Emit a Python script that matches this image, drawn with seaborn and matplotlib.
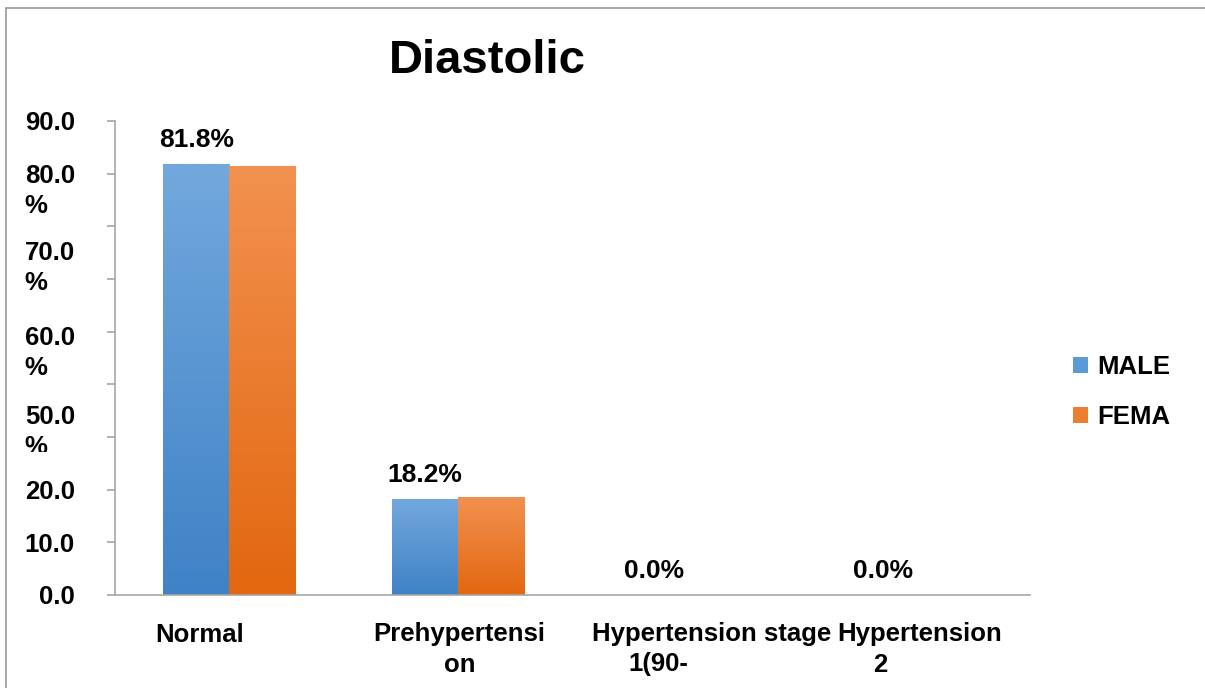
import numpy as np
import pandas as pd
import matplotlib
matplotlib.use("Agg")
import matplotlib.pyplot as plt
import seaborn as sns
from matplotlib.colors import LinearSegmentedColormap
from matplotlib.patches import Patch
from matplotlib.lines import Line2D
from matplotlib.transforms import Bbox, TransformedBbox, ScaledTranslation, blended_transform_factory

# ---- data ----
categories = ["Normal", "Prehypertension", "Hypertension stage 1", "Hypertension 2"]
series_names = ["MALE", "FEMA"]
male_values = [81.8, 18.2, 0.0, 0.0]
female_values = [81.4, 18.6, 0.0, 0.0]

# axis labels as they are printed (wrapped lines)
category_lines = [["Normal"], ["Prehypertensi", "on"], ["Hypertension stage", "1(90-"], ["Hypertension", "2"]]
ytick_values = [0, 10, 20, 30, 40, 50, 60, 70, 80, 90]
ytick_lines = [["90.0"], ["80.0", "%"], ["70.0", "%"], ["60.0", "%"], ["50.0", "%"], ["20.0"], ["10.0"], ["0.0"]]

# ---- layout / style ----
W, H, DPI = 1205, 688, 100
line_x = [[-0.129], [1.003, 1.005], [2.11, 1.874], [3.019, 2.844]]
ytext_y = [90, 80, 65.5, 49.2, 34.2, 20, 10, 0]
blue_top, blue_bot = "#72A8DD", "#3F82C6"
orange_top, orange_bot = "#F2914F", "#E2670F"
grey = "#A6A6A6"
FONT = "Liberation Sans"
FS = 18.5

sns.set_theme(style="white")
plt.rcParams["font.family"] = [FONT, "DejaVu Sans"]
plt.rcParams["font.weight"] = "bold"
plt.rcParams["text.color"] = "black"

df = pd.DataFrame({
    "category": categories * 2,
    "sex": [series_names[0]] * 4 + [series_names[1]] * 4,
    "value": male_values + female_values,
})

fig = plt.figure(figsize=(W / DPI, H / DPI), dpi=DPI)
ax = fig.add_axes([115 / W, 1 - 595 / H, (1030 - 115) / W, (595 - 121) / H])

sns.barplot(data=df, x="category", y="value", hue="sex", order=categories,
            hue_order=series_names, palette=["#5B9BD5", "#ED7D31"],
            width=0.578, gap=0, saturation=1, legend=False, ax=ax,
            err_kws={"linewidth": 0})

# vertical gradient fill on every bar
cmaps = [LinearSegmentedColormap.from_list("b", [blue_bot, blue_top]),
         LinearSegmentedColormap.from_list("o", [orange_bot, orange_top])]
grad = np.linspace(0, 1, 256).reshape(-1, 1)
for cont, cmap in zip(ax.containers, cmaps):
    for bar in cont:
        x, w, h = bar.get_x(), bar.get_width(), bar.get_height()
        bar.set_edgecolor("none")
        if h <= 0:
            continue
        im = ax.imshow(grad, extent=[x, x + w, 0, h], origin="lower",
                       cmap=cmap, aspect="auto", zorder=bar.get_zorder() + 0.1,
                       interpolation="bilinear")
        im.set_clip_path(bar)

ax.set_xlim(-0.5, 3.5)
ax.set_ylim(0, 90)
ax.set_xlabel("")
ax.set_ylabel("")

# value labels over the MALE bars
ax.bar_label(ax.containers[0], labels=[f"{v:.1f}%" for v in male_values],
             padding=9, fontsize=19, fontweight="bold", color="black",
             family=FONT)

# spines and ticks
for s in ["top", "right"]:
    ax.spines[s].set_visible(False)
for s in ["left", "bottom"]:
    ax.spines[s].set_color(grey)
    ax.spines[s].set_linewidth(1.2)
ax.set_yticks(ytick_values)
ax.tick_params(axis="y", left=True, length=6, width=1.2, color=grey,
               direction="out", labelleft=False)
ax.tick_params(axis="x", bottom=False, labelbottom=False)

# y tick texts, one line at a time; the lowest "%" is cut by the plot edge
clip = TransformedBbox(Bbox.from_extents(0, 1 - 452 / H, 1, 1), fig.transFigure)
ytrans = blended_transform_factory(fig.transFigure, ax.transData)
for lines, yv in zip(ytick_lines, ytext_y):
    for k, ln in enumerate(lines):
        tr = ytrans + ScaledTranslation(0, -30 * k / DPI, fig.dpi_scale_trans)
        if k == 0:
            t = fig.text(75 / W, yv, ln, transform=tr, ha="right",
                         va="center_baseline", fontsize=FS, fontweight="bold")
        else:
            t = fig.text(24 / W, yv, ln, transform=tr, ha="left",
                         va="center_baseline", fontsize=FS, fontweight="bold")
            t.set_clip_box(clip)
            t.set_clip_on(True)

# category texts, one line at a time
xtrans = ax.get_xaxis_transform()
for lines, xs in zip(category_lines, line_x):
    for k, (ln, xv) in enumerate(zip(lines, xs)):
        ax.text(xv, -(37 + 30 * k) / 474, ln, transform=xtrans, ha="center",
                va="center_baseline", fontsize=FS, fontweight="bold",
                clip_on=False)

# title
fig.text(487 / W, 1 - 61 / H, "Diastolic", ha="center", va="center",
         fontsize=34, fontweight="bold")

# legend
handles = [Patch(facecolor="#5B9BD5", edgecolor="none"),
           Patch(facecolor="#ED7D31", edgecolor="none")]
fig.legend(handles, series_names, loc="center left",
           bbox_to_anchor=(1073 / W, 1 - 392 / H), frameon=False,
           borderpad=0, borderaxespad=0, handlelength=0.58, handleheight=0.58,
           handletextpad=0.35, labelspacing=0.98,
           prop={"family": FONT, "weight": "bold", "size": FS})

# chart-area frame (top and left edges)
fig.add_artist(Line2D([6 / W, 6 / W], [0, 1 - 8 / H], transform=fig.transFigure,
                      color="#A0A0A0", lw=1.3))
fig.add_artist(Line2D([6 / W, 1], [1 - 8 / H, 1 - 8 / H], transform=fig.transFigure,
                      color="#A0A0A0", lw=1.3))

fig.savefig("out.png", dpi=DPI)
